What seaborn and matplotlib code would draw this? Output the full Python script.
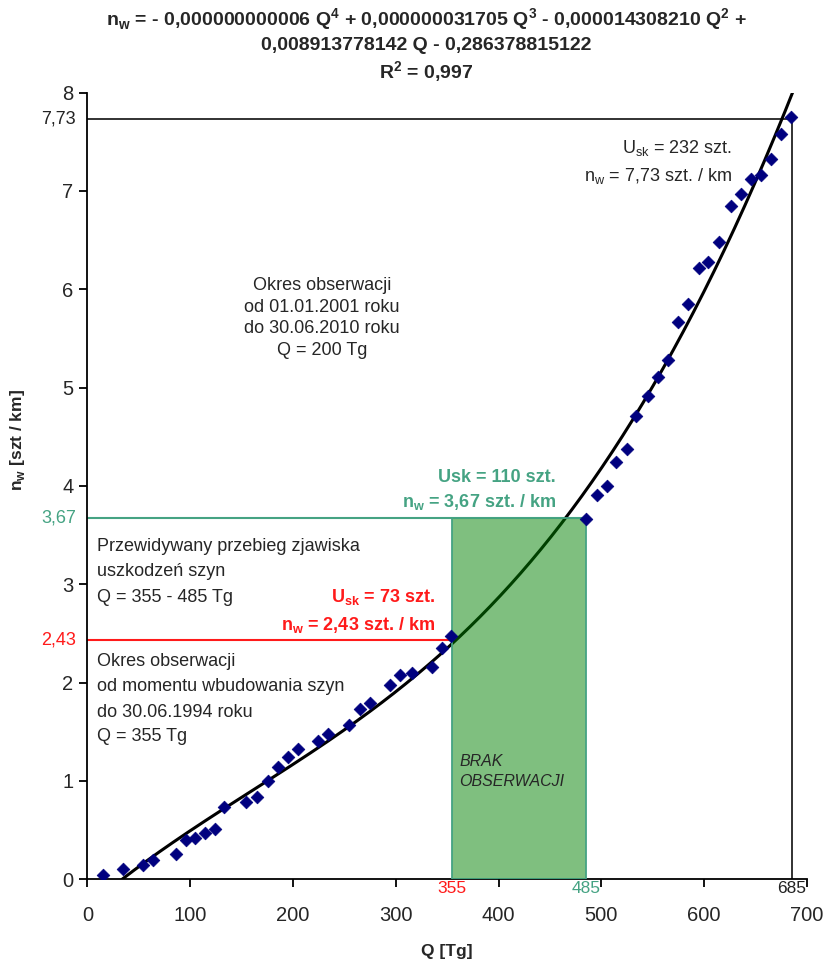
import numpy as np
import pandas as pd
import matplotlib
matplotlib.use("Agg")
import matplotlib.pyplot as plt
import matplotlib.transforms as mtransforms
from matplotlib.patches import Rectangle
import seaborn as sns

# --- data ---
q_obs = [15, 35, 54.5, 64, 86, 96, 105, 114.5, 124, 133, 154, 165, 175.5, 185, 195,
         205, 224, 234.5, 255, 265, 275, 294.5, 304, 315.5, 335, 344.5, 354,
         485, 495.5, 505, 514, 524.5, 534, 545.5, 555.5, 565, 575, 584.5, 594.5,
         604, 614, 626, 635.5, 645.5, 655.5, 665, 675, 684.5]
nw_obs = [0.04, 0.105, 0.145, 0.20, 0.26, 0.40, 0.42, 0.47, 0.51, 0.74, 0.79, 0.84, 1.00,
          1.14, 1.24, 1.32, 1.41, 1.475, 1.57, 1.73, 1.79, 1.98, 2.08, 2.10, 2.16, 2.35,
          2.47, 3.66, 3.91, 4.00, 4.24, 4.38, 4.71, 4.91, 5.11, 5.28, 5.67, 5.85, 6.22,
          6.28, 6.48, 6.85, 6.97, 7.12, 7.16, 7.33, 7.58, 7.75]

# trend line coefficients from the title (Q^4 ... Q^0)
fit_coef = [-0.000000000006, 0.000000031705, -0.000014308210, 0.008913778142, -0.286378815122]

q_sk, nw_sk = 355, 2.43      # end of first observation period
q_prog, nw_prog = 485, 3.67  # end of predicted range
q_end, nw_end = 685, 7.73    # end of second observation period

teal = "#45a383"
red = "#ff1a1a"
navy = "#00007f"

# --- plot ---
sns.set_theme(style="white")
plt.rcParams["font.family"] = ["Liberation Sans", "DejaVu Sans"]
plt.rcParams["mathtext.fontset"] = "custom"
plt.rcParams["mathtext.rm"] = "Liberation Sans"
plt.rcParams["mathtext.bf"] = "Liberation Sans:bold"

fig = plt.figure(figsize=(8.3, 9.64), dpi=100)
ax = fig.add_axes([0.1052, 0.0879, 0.8671, 0.816])

q_line = np.linspace(34, 692, 400)
fit = pd.DataFrame({"Q": q_line, "nw": np.polyval(fit_coef, q_line)})
sns.lineplot(data=fit, x="Q", y="nw", color="black", lw=2.2, ax=ax, zorder=2)

# reference lines
ax.plot([0, q_end], [nw_end, nw_end], color="#222222", lw=1.3, zorder=1)
ax.plot([q_end, q_end], [0, nw_end], color="#222222", lw=1.3, zorder=1)
ax.plot([0, q_sk], [nw_sk, nw_sk], color=red, lw=1.5, zorder=1)
ax.plot([0, q_prog], [nw_prog, nw_prog], color=teal, lw=1.5, zorder=1)

ax.add_patch(Rectangle((q_sk, 0), q_prog - q_sk, nw_prog,
                       facecolor=(0, 0.5, 0, 0.5), edgecolor=teal, lw=1.3, zorder=3))

obs = pd.DataFrame({"Q": q_obs, "nw": nw_obs})
sns.scatterplot(data=obs, x="Q", y="nw", marker="D", s=42, color=navy,
                edgecolor=navy, linewidth=0.5, ax=ax, zorder=4)

ax.set_xlim(0, 700)
ax.set_ylim(0, 8)
ax.set_xticks(range(0, 701, 100))
ax.set_yticks(range(0, 9))
for side in ("top", "right"):
    ax.spines[side].set_visible(False)
for side in ("left", "bottom"):
    ax.spines[side].set_color("black")
    ax.spines[side].set_linewidth(1.3)
ax.tick_params(axis="both", direction="out", length=6, width=1.3, color="black",
               labelsize=14.5, left=True, bottom=True)
ax.tick_params(axis="x", pad=13)
ax.tick_params(axis="y", pad=4)

ax.set_xlabel("Q [Tg]", fontsize=12.5, fontweight="bold")
ax.set_ylabel(r"n$_\mathbf{w}$ [szt / km]", fontsize=12.5, fontweight="bold")
ax.xaxis.set_label_coords(0.5, -0.082)
ax.yaxis.set_label_coords(-0.084, 0.558)

# title (trend equation)
tx = 426 / 830
title_kw = dict(ha="center", va="center", fontsize=14, fontweight="bold")
fig.text(tx, 1 - 20 / 964,
         r"n$_\mathbf{w}$ = - 0,000000000006 Q$^\mathbf{4}$ + 0,000000031705 Q$^\mathbf{3}$"
         r" - 0,000014308210 Q$^\mathbf{2}$ +", **title_kw)
fig.text(tx, 1 - 46 / 964, "0,008913778142 Q - 0,286378815122", **title_kw)
fig.text(tx, 1 - 72 / 964, r"R$^\mathbf{2}$ = 0,997", **title_kw)

# colored value labels on the axes
ytr = mtransforms.blended_transform_factory(ax.transAxes, ax.transData)
xtr = mtransforms.blended_transform_factory(ax.transData, ax.transAxes)
ax.text(-0.016, nw_end, "7,73", transform=ytr, ha="right", va="center", fontsize=13, color="#222222")
ax.text(-0.016, nw_prog, "3,67", transform=ytr, ha="right", va="center", fontsize=13, color=teal)
ax.text(-0.016, nw_sk, "2,43", transform=ytr, ha="right", va="center", fontsize=13, color=red)
ax.text(q_sk, -0.012, "355", transform=xtr, ha="center", va="center", fontsize=12.5, color=red)
ax.text(q_prog, -0.012, "485", transform=xtr, ha="center", va="center", fontsize=12.5, color=teal)
ax.text(q_end, -0.012, "685", transform=xtr, ha="center", va="center", fontsize=12.5, color="#222222")

# annotations
ax.text(627, 7.44, r"U$_\mathrm{sk}$ = 232 szt.", ha="right", va="center", fontsize=13)
ax.text(627, 7.15, r"n$_\mathrm{w}$ = 7,73 szt. / km", ha="right", va="center", fontsize=13)

ax.text(456, 4.09, "Usk = 110 szt.", ha="right", va="center", fontsize=13,
        color=teal, fontweight="bold")
ax.text(456, 3.835, r"n$_\mathbf{w}$ = 3,67 szt. / km", ha="right", va="center", fontsize=13,
        color=teal, fontweight="bold")

ax.text(338, 2.87, r"U$_\mathbf{sk}$ = 73 szt.", ha="right", va="center", fontsize=13,
        color=red, fontweight="bold")
ax.text(338, 2.59, r"n$_\mathbf{w}$ = 2,43 szt. / km", ha="right", va="center", fontsize=13,
        color=red, fontweight="bold")

ax.text(228.5, 5.71, "Okres obserwacji\nod 01.01.2001 roku\ndo 30.06.2010 roku\nQ = 200 Tg",
        ha="center", va="center", fontsize=13, linespacing=1.35)

# left-hand notes, one text per line
note_lines = [(3.38, "Przewidywany przebieg zjawiska"), (3.13, "uszkodzeń szyn"),
              (2.87, "Q = 355 - 485 Tg"),
              (2.21, "Okres obserwacji"), (1.96, "od momentu wbudowania szyn"),
              (1.70, "do 30.06.1994 roku"), (1.45, "Q = 355 Tg")]
for y, s in note_lines:
    ax.text(9.5, y, s, ha="left", va="center", fontsize=13)

ax.text(362, 1.10, "BRAK\nOBSERWACJI", ha="left", va="center", fontsize=11.5,
        style="italic", linespacing=1.4, zorder=5)

fig.savefig("out.png", dpi=100)
